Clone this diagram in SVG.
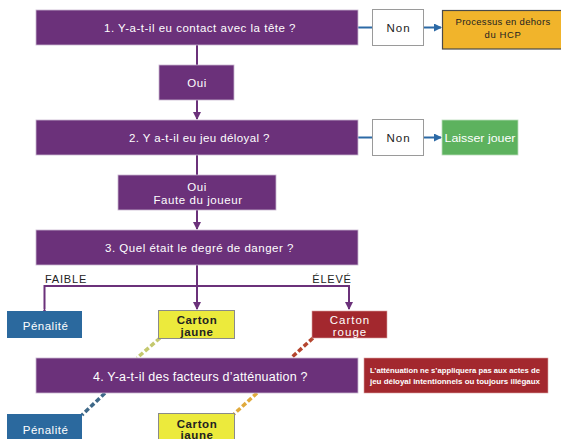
<svg xmlns="http://www.w3.org/2000/svg" width="561" height="439" viewBox="0 0 561 439">
<style>
text{font-family:"Liberation Sans",Arial,sans-serif;text-anchor:middle}
.q{fill:#6b317a;stroke:#c9b6cf;stroke-width:0.8}
.qt{fill:#fff;font-size:11.5px;letter-spacing:0.5px}
.wt{fill:#fff}
.bt{fill:#222}
.pl{stroke:#6b317a;stroke-width:2;fill:none}
.bl{stroke:#2c6aa6;stroke-width:2;fill:none}
.d{stroke-width:3.5;stroke-dasharray:5 2.5;fill:none}
</style>
<defs>
<marker id="ap" viewBox="0 0 8 8" refX="7" refY="4" markerWidth="4" markerHeight="4" orient="auto" markerUnits="strokeWidth"><path d="M0,0 L8,4 L0,8 Z" fill="#6b317a"/></marker>
<marker id="ab" viewBox="0 0 8 8" refX="7" refY="4" markerWidth="4" markerHeight="4" orient="auto" markerUnits="strokeWidth"><path d="M0,0 L8,4 L0,8 Z" fill="#2c6aa6"/></marker>
</defs>
<g id="connectors">
<line class="pl" x1="197" y1="45" x2="197" y2="65"/>
<line class="pl" x1="197" y1="100" x2="197" y2="119" marker-end="url(#ap)"/>
<line class="pl" x1="197" y1="155" x2="197" y2="175"/>
<line class="pl" x1="197" y1="210" x2="197" y2="229" marker-end="url(#ap)"/>
<line class="pl" x1="197" y1="265" x2="197" y2="309" marker-end="url(#ap)"/>
<polyline class="pl" points="44.5,309 44.5,286 349,286 349,309" marker-start="url(#ap)" marker-end="url(#ap)"/>
<line class="bl" x1="358" y1="27.5" x2="372" y2="27.5"/>
<line class="bl" x1="424" y1="27.5" x2="441" y2="27.5" marker-end="url(#ab)"/>
<line class="bl" x1="358" y1="137.5" x2="372" y2="137.5"/>
<line class="bl" x1="424" y1="137.5" x2="441" y2="137.5" marker-end="url(#ab)"/>
<line class="d" stroke="#c4c86e" x1="160" y1="338" x2="137" y2="358"/>
<line class="d" stroke="#b5452f" x1="313" y1="338" x2="291" y2="358"/>
<line class="d" stroke="#3e6888" x1="105" y1="393" x2="82" y2="415"/>
<line class="d" stroke="#e0aa3c" x1="257" y1="393" x2="234" y2="414"/>
</g>
<g id="q1"><rect class="q" x="36" y="10" width="322" height="35"/><text class="qt" x="200" y="31.5" textLength="192" lengthAdjust="spacing">1. Y-a-t-il eu contact avec la tête ?</text></g>
<g id="non1"><rect x="372.5" y="9.5" width="51" height="36" fill="#fff" stroke="#9a9a9a" stroke-width="1"/><text class="bt" x="398.5" y="32" font-size="11.5" letter-spacing="1">Non</text></g>
<g id="hcp"><rect x="442.5" y="10.5" width="120" height="38.5" fill="#f1b42b" stroke="#4a4a4a" stroke-width="1.2"/><text class="bt" x="503" y="25" font-size="9.5" letter-spacing="0.3">Processus en dehors</text><text class="bt" x="503" y="38" font-size="9.5" letter-spacing="0.6">du HCP</text></g>
<g id="oui1"><rect class="q" x="159" y="65" width="75" height="35"/><text class="qt" x="197" y="87">Oui</text></g>
<g id="q2"><rect class="q" x="36" y="120" width="322" height="35"/><text class="qt" x="199.5" y="141.5" textLength="141" lengthAdjust="spacing">2. Y a-t-il eu jeu déloyal ?</text></g>
<g id="non2"><rect x="372.5" y="119.5" width="51" height="36" fill="#fff" stroke="#9a9a9a" stroke-width="1"/><text class="bt" x="398.5" y="142" font-size="11.5" letter-spacing="1">Non</text></g>
<g id="laisser"><rect x="442" y="120" width="76" height="35" fill="#5db25e" stroke="#b9dcb9" stroke-width="0.8"/><text class="wt" x="480" y="141.5" font-size="11.5" textLength="71" lengthAdjust="spacingAndGlyphs">Laisser jouer</text></g>
<g id="oui2"><rect class="q" x="118" y="175" width="158" height="35"/><text class="qt" x="197" y="191">Oui</text><text class="qt" x="198" y="204" textLength="89" lengthAdjust="spacing">Faute du joueur</text></g>
<g id="q3"><rect class="q" x="36" y="230" width="322" height="35"/><text class="qt" x="199.5" y="251.5" textLength="189" lengthAdjust="spacing">3. Quel était le degré de danger ?</text></g>
<text class="bt" x="66" y="283" font-size="11" letter-spacing="0.8">FAIBLE</text>
<text class="bt" x="332" y="283" font-size="11" letter-spacing="0.8">ÉLEVÉ</text>
<g id="pen1"><rect x="7" y="311" width="75" height="27" fill="#2b699e"/><text class="wt" x="45.5" y="330" font-size="11.5" letter-spacing="0.5">Pénalité</text></g>
<g id="cj1"><rect x="158.5" y="310.5" width="76" height="28" fill="#ecea3c" stroke="#8a8a8a" stroke-width="1"/><text class="bt" x="197" y="324" font-size="11.5" font-weight="bold" letter-spacing="0.6">Carton</text><text class="bt" x="197" y="336" font-size="11.5" font-weight="bold" letter-spacing="0.6">jaune</text></g>
<g id="cr1"><rect x="312" y="311" width="75" height="27" fill="#a3282e" stroke="#d9a0a0" stroke-width="0.6"/><text class="wt" x="350" y="324" font-size="11.5" letter-spacing="1">Carton</text><text class="wt" x="350" y="336" font-size="11.5" letter-spacing="1">rouge</text></g>
<g id="q4"><rect class="q" x="36" y="358" width="322" height="35"/><text class="qt" x="200.5" y="380.5" style="font-size:12.5px" textLength="215" lengthAdjust="spacing">4. Y-a-t-il des facteurs d’atténuation ?</text></g>
<g id="note"><rect x="364" y="358" width="184" height="35" fill="#a3282e" stroke="#d9a0a0" stroke-width="0.6"/><text class="wt" x="455" y="372.5" font-size="7.6" font-weight="bold" textLength="170" lengthAdjust="spacingAndGlyphs">L’atténuation ne s’appliquera pas aux actes de</text><text class="wt" x="455" y="384" font-size="7.6" font-weight="bold" textLength="170" lengthAdjust="spacingAndGlyphs">jeu déloyal intentionnels ou toujours illégaux</text></g>
<g id="pen2"><rect x="7" y="414" width="75" height="30" fill="#2b699e"/><text class="wt" x="45.5" y="434" font-size="11.5" letter-spacing="0.5">Pénalité</text></g>
<g id="cj2"><rect x="158.5" y="413.5" width="76" height="30" fill="#ecea3c" stroke="#8a8a8a" stroke-width="1"/><text class="bt" x="197" y="427.5" font-size="11.5" font-weight="bold" letter-spacing="0.6">Carton</text><text class="bt" x="197" y="438.5" font-size="11.5" font-weight="bold" letter-spacing="0.6">jaune</text></g>
</svg>
